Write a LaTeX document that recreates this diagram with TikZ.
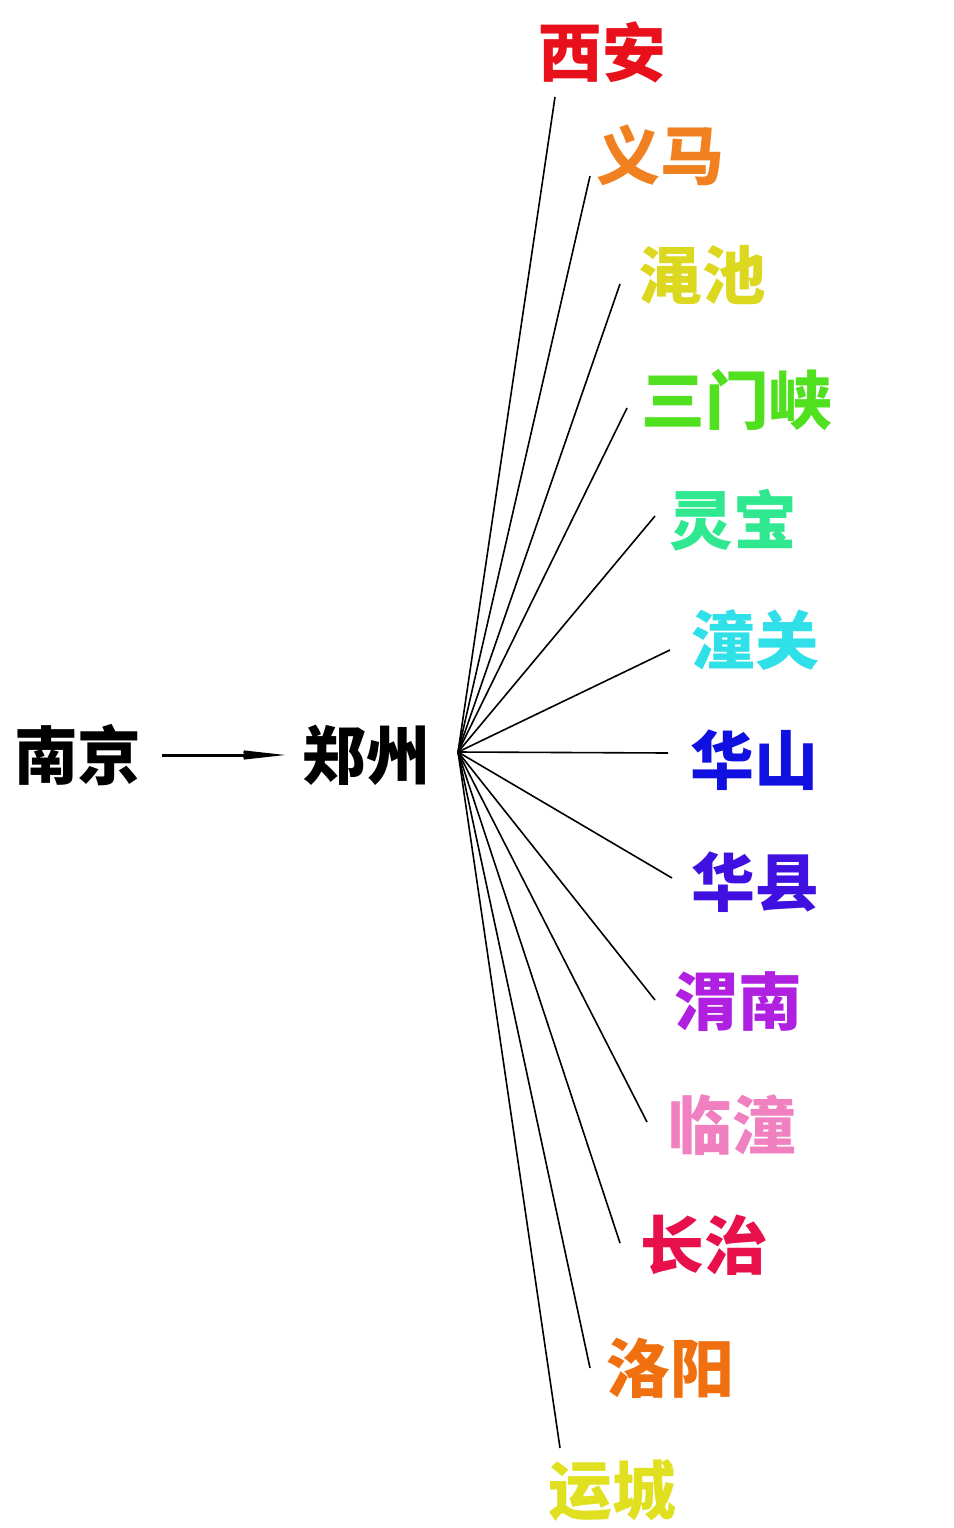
\documentclass[tikz,border=0pt]{standalone}
\usepackage{fontspec}
\newfontfamily\cjk{Noto Sans CJK SC}
\usetikzlibrary{arrows.meta}
\definecolor{cXA}{RGB}{232,16,26}
\definecolor{cYM}{RGB}{240,128,32}
\definecolor{cMC}{RGB}{220,216,32}
\definecolor{cSM}{RGB}{80,224,32}
\definecolor{cLB}{RGB}{48,232,144}
\definecolor{cTG}{RGB}{48,224,232}
\definecolor{cHS}{RGB}{16,16,224}
\definecolor{cHX}{RGB}{64,16,224}
\definecolor{cWN}{RGB}{176,32,224}
\definecolor{cLT}{RGB}{240,128,192}
\definecolor{cCZ}{RGB}{232,16,74}
\definecolor{cLY}{RGB}{240,112,16}
\definecolor{cYC}{RGB}{224,224,32}
\begin{document}
\begin{tikzpicture}[x=1bp,y=-1bp,
  city/.style={inner sep=0pt, font=\cjk\bfseries\fontsize{64}{64}\selectfont},
  spoke/.style={line width=1.6bp, black}]
\useasboundingbox (0,0) rectangle (953,1528);
\node[city] (nj) at (78,755) {南京};
\node[city] (zz) at (366,755) {郑州};
\coordinate (hub) at (458,752);
\coordinate (a0) at (162,755);
\coordinate (a1) at (285,755);
\draw[line width=3bp, -{Stealth[length=58bp,width=13bp,inset=22bp]}] (a0) -- (a1);

\node[city, text=cXA] (xa) at (602,52) {西安};
\node[city, text=cYM] (ym) at (660,155) {义马};
\node[city, text=cMC] (mc) at (702,275) {渑池};
\node[city, text=cSM] (sm) at (737,400) {三门峡};
\node[city, text=cLB] (lb) at (733,520) {灵宝};
\node[city, text=cTG] (tg) at (755,640) {潼关};
\node[city, text=cHS] (hs) at (754,760) {华山};
\node[city, text=cHX] (hx) at (755,882) {华县};
\node[city, text=cWN] (wn) at (738,1002) {渭南};
\node[city, text=cLT] (lt) at (732,1125) {临潼};
\node[city, text=cCZ] (cz) at (704,1245) {长治};
\node[city, text=cLY] (ly) at (670,1368) {洛阳};
\node[city, text=cYC] (yc) at (612,1490) {运城};

\coordinate (exa) at (555,97);
\coordinate (eym) at (590,176);
\coordinate (emc) at (620,284);
\coordinate (esm) at (627,408);
\coordinate (elb) at (655,516);
\coordinate (etg) at (670,650);
\coordinate (ehs) at (668,753);
\coordinate (ehx) at (672,878);
\coordinate (ewn) at (655,1000);
\coordinate (elt) at (647,1122);
\coordinate (ecz) at (620,1243);
\coordinate (ely) at (590,1368);
\coordinate (eyc) at (560,1448);
\foreach \e in {exa,eym,emc,esm,elb,etg,ehs,ehx,ewn,elt,ecz,ely,eyc}
  \draw[spoke] (hub) -- (\e);
\end{tikzpicture}
\end{document}
